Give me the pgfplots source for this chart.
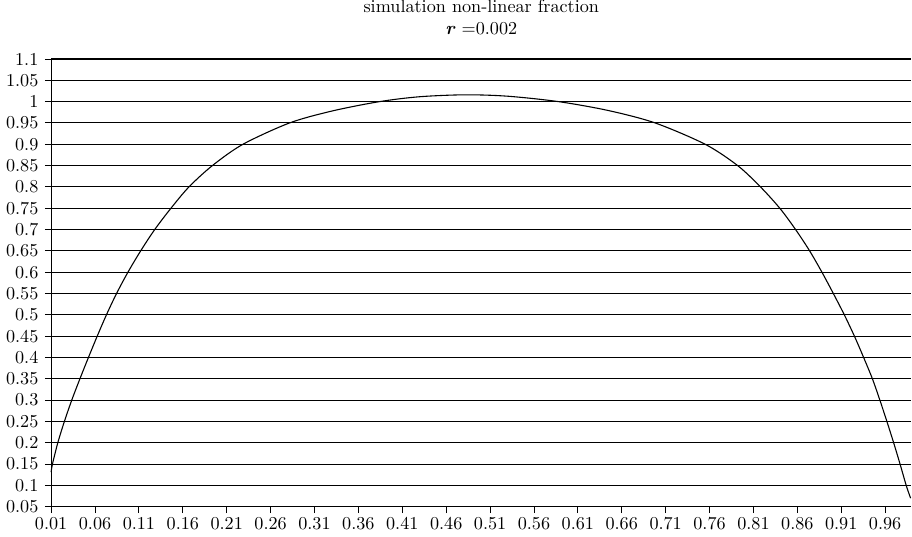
\documentclass[border=0pt]{standalone}
\usepackage{pgfplots}
\pgfplotsset{compat=1.18}
\begin{document}
\begin{tikzpicture}
\begin{axis}[
  scale only axis,
  width=473.5pt, height=246.4pt,
  xmin=0.01, xmax=0.99,
  ymin=0.05, ymax=1.1,
  xtick={0.01,0.06,...,0.97},
  ytick={0.05,0.1,...,1.11},
  axis lines=left,
  axis line style={-, line width=0.6pt},
  tick align=outside,
  major tick length=3.5pt,
  tick style={black, line width=0.5pt},
  ymajorgrids,
  grid style={black, line width=0.6pt},
  clip=false,
  /pgf/number format/.cd, fixed, precision=2, assume math mode=true,
  /pgfplots/.cd,
  xticklabel style={yshift=1pt},
  title={simulation non-linear fraction\\\textbf{\textit{r}} =0.002},
  title style={align=center, yshift=7pt, inner sep=0pt},
]
\addplot[black, line width=0.6pt, smooth] coordinates {
(0.01,0.131)
(0.0115,0.15)
(0.0176,0.2)
(0.0251,0.25)
(0.0335,0.3)
(0.0428,0.35)
(0.0525,0.4)
(0.0625,0.45)
(0.073,0.5)
(0.0845,0.55)
(0.0975,0.6)
(0.112,0.65)
(0.128,0.7)
(0.1465,0.75)
(0.167,0.8)
(0.1937,0.85)
(0.2285,0.9)
(0.2816,0.95)
(0.33,0.978)
(0.384,1.0)
(0.43,1.0115)
(0.482,1.016)
(0.53,1.0127)
(0.588,1.0)
(0.645,0.979)
(0.698,0.95)
(0.755,0.9)
(0.792,0.85)
(0.818,0.8)
(0.840,0.75)
(0.858,0.7)
(0.874,0.65)
(0.888,0.6)
(0.901,0.55)
(0.9135,0.5)
(0.925,0.45)
(0.9355,0.4)
(0.9455,0.35)
(0.954,0.3)
(0.962,0.25)
(0.9697,0.2)
(0.977,0.15)
(0.984,0.1)
(0.989,0.07)
};
\end{axis}
\end{tikzpicture}
\end{document}
